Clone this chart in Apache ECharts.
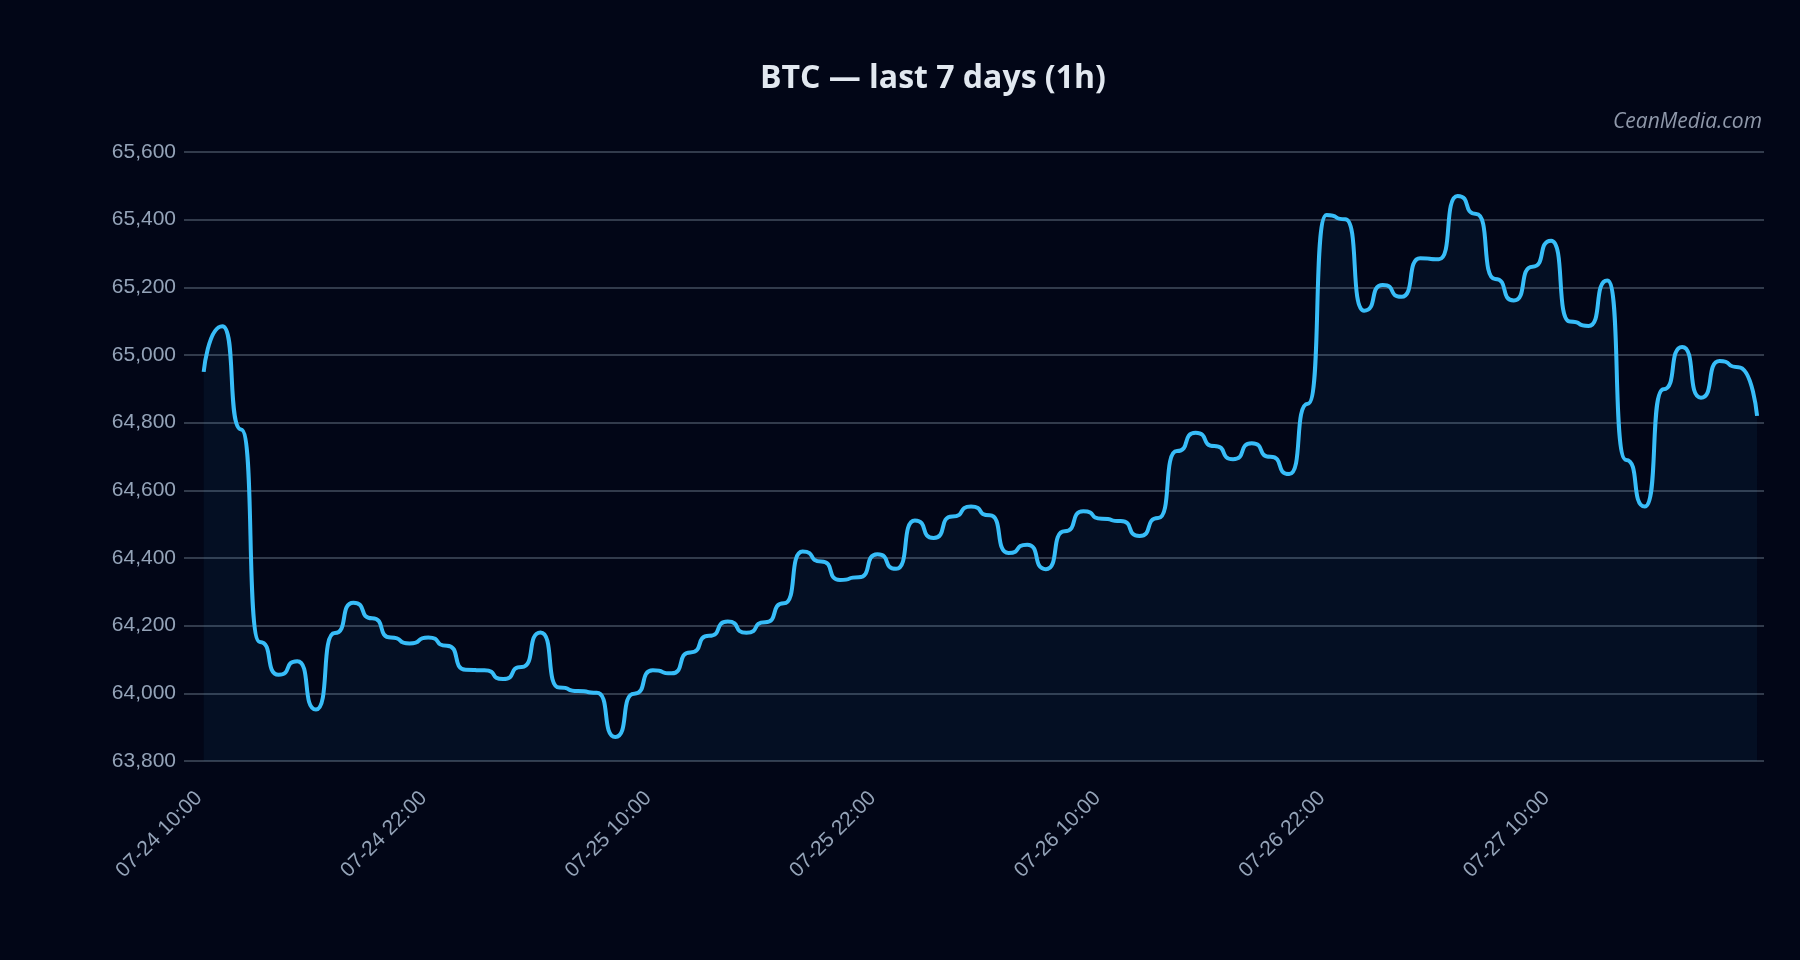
<!DOCTYPE html>
<html>
<head>
<meta charset="utf-8">
<title>BTC — last 7 days (1h)</title>
<script src="https://cdn.jsdelivr.net/npm/echarts@6/dist/echarts.min.js"></script>
<style>
  html, body { margin: 0; padding: 0; background: #020617; }
  #chart { width: 1800px; height: 960px; }
</style>
</head>
<body>
<div id="chart"></div>
<script>
// x tick labels, one every 12 hours from 07-24 10:00
const tickLabels = ['07-24 10:00', '07-24 22:00', '07-25 10:00', '07-25 22:00', '07-26 10:00', '07-26 22:00', '07-27 10:00'];

// hourly closes (USD)
const prices = [
  64950, 65085, 64780, 64152, 64055, 64095, 63952, 64178, 64268, 64222,
  64165, 64147, 64165, 64141, 64070, 64068, 64042, 64078, 64180, 64017,
  64007, 64002, 63871, 63999, 64068, 64059, 64121, 64170, 64212, 64179,
  64210, 64266, 64419, 64390, 64335, 64343, 64411, 64368, 64511, 64459,
  64523, 64552, 64526, 64415, 64439, 64367, 64479, 64538, 64516, 64509,
  64465, 64518, 64716, 64770, 64731, 64692, 64739, 64699, 64648, 64856,
  65414, 65401, 65131, 65207, 65172, 65286, 65283, 65470, 65417, 65225,
  65161, 65261, 65338, 65099, 65086, 65220, 64690, 64552, 64899, 65024,
  64874, 64982, 64964, 64820,
];

// window shown on the x axis, in hours after 07-24 10:00
const firstSample = 0.25; // first close is at 10:15
const windowEnd = 83.62;

const yMin = 63800;
const yMax = 65600;

const axisColor = '#94a3b8';
const gridColor = '#323b4c';
const lineColor = '#38bdf8';

const chart = echarts.init(document.getElementById('chart'));

const seriesData = prices.map((p, i) => [firstSample + i, p]);

const option = {
  backgroundColor: '#020617',
  title: [
    {
      text: 'BTC — last 7 days (1h)',
      left: 755,
      top: 58,
      textStyle: {
        color: '#e2e8f0',
        fontFamily: 'Open Sans',
        fontWeight: 'bold',
        fontSize: 32,
      },
    },
    {
      text: 'CeanMedia.com',
      right: 33,
      top: 107,
      textStyle: {
        color: '#8f98aa',
        fontFamily: 'Open Sans',
        fontStyle: 'italic',
        fontWeight: 'normal',
        fontSize: 21,
      },
    },
  ],
  grid: {
    left: 199,
    right: 36,
    top: 152,
    bottom: 199,
  },
  xAxis: {
    type: 'value',
    min: 0,
    max: windowEnd,
    interval: 12,
    axisLine: { show: false },
    axisTick: { show: false },
    splitLine: { show: false },
    axisLabel: {
      rotate: 45,
      margin: 34,
      color: axisColor,
      fontFamily: 'Liberation Sans',
      fontSize: 21,
      showMaxLabel: false,
      formatter: (v) => (v % 12 === 0 ? tickLabels[v / 12] || '' : ''),
    },
  },
  yAxis: {
    type: 'value',
    min: yMin,
    max: yMax,
    interval: 200,
    axisLine: { show: false },
    axisTick: {
      show: true,
      length: 15,
      lineStyle: { color: gridColor, width: 2 },
    },
    axisLabel: {
      margin: 23,
      color: axisColor,
      fontFamily: 'Liberation Sans',
      fontSize: 21,
      formatter: (v) => v.toLocaleString('en-US'),
    },
    splitLine: {
      lineStyle: { color: gridColor, width: 2 },
    },
  },
  series: [
    {
      name: 'BTC',
      type: 'line',
      data: seriesData,
      showSymbol: false,
      smooth: 0.75,
      smoothMonotone: 'x',
      lineStyle: { color: lineColor, width: 4 },
      areaStyle: { color: 'rgba(56,189,248,0.08)' },
    },
  ],
};

chart.setOption(option);

window.addEventListener('resize', () => {
  chart.resize();
});
</script>
</body>
</html>
